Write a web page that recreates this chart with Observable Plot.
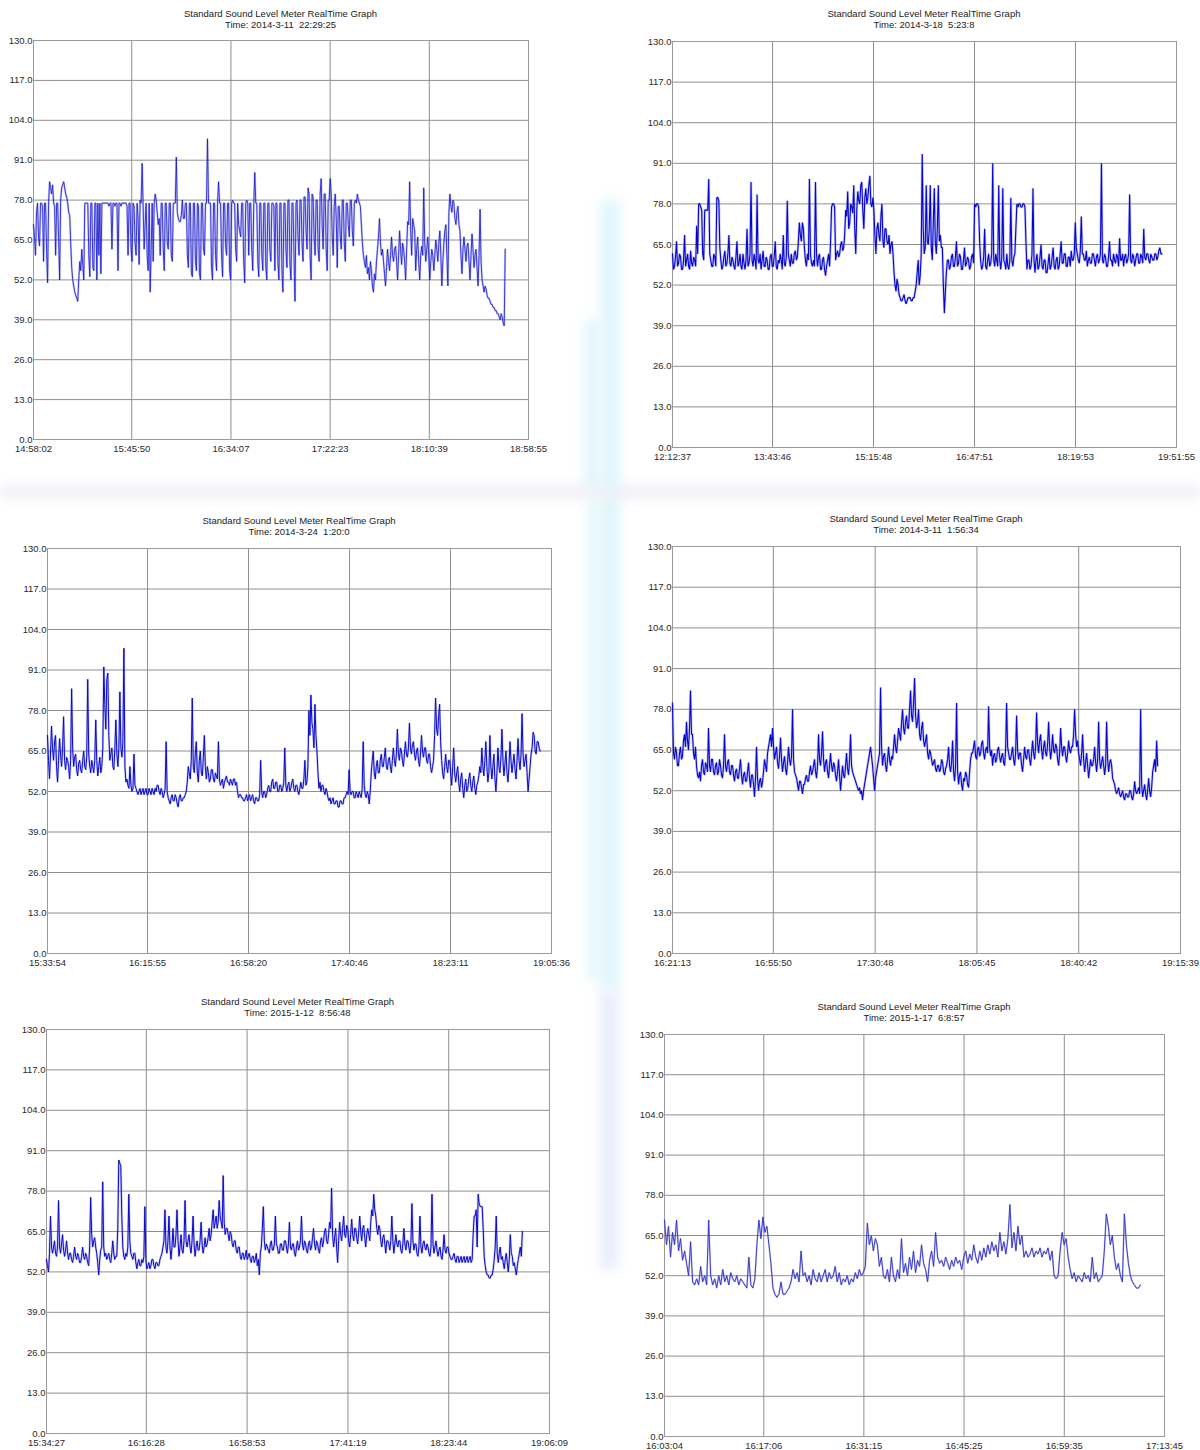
<!DOCTYPE html>
<html>
<head>
<meta charset="utf-8">
<script src="https://cdn.jsdelivr.net/npm/d3@7"></script>
<script src="https://cdn.jsdelivr.net/npm/@observablehq/plot@0.6"></script>
<style>
  html, body { margin: 0; padding: 0; background: #fff; }
  body { width: 1200px; height: 1450px; position: relative; overflow: hidden;
         font-family: "Liberation Sans", Arial, sans-serif; }
  .deco { position: absolute; filter: blur(6px); z-index: 0; }
  .panel-title { position: absolute; width: 600px; text-align: center; font-size: 9.5px;
                 line-height: 11px; color: #222; white-space: pre; z-index: 2; }
  .panel-plot { position: absolute; z-index: 1; }
</style>
</head>
<body>
<div class="deco" style="left:584px;top:320px;width:16px;height:170px;background:#e2f6fb;"></div>
<div class="deco" style="left:600px;top:200px;width:20px;height:790px;background:#e2f6fb;"></div>
<div class="deco" style="left:588px;top:500px;width:12px;height:480px;background:#e2f6fb;"></div>
<div class="deco" style="left:600px;top:990px;width:18px;height:280px;background:#eaeefb;"></div>
<div class="deco" style="left:0px;top:486px;width:1200px;height:12px;background:#eeeff6;"></div>
<script>
// ---------- shared ----------
const TITLE = "Standard Sound Level Meter RealTime Graph";
const Y_TICKS = [0, 13, 26, 39, 52, 65, 78, 91, 104, 117, 130];

// ---------- panel 1 ----------
const P1_TIME = "Time: 2014-3-11  22:29:25";
const P1_TICKS = ["14:58:02", "15:45:50", "16:34:07", "17:22:23", "18:10:39", "18:58:55"];
const P1_END = "18:47:35";
const P1_VALUES = [
  70, 66, 60, 74, 77, 66, 63, 77, 77, 76, 58, 77, 77, 62, 51, 77, 84, 82, 80, 83,
  77, 76, 60, 77, 77, 65, 52, 78, 82, 83, 84, 82, 80, 79, 77, 74, 73, 64, 56, 52,
  50, 48, 47, 46, 45, 52, 58, 55, 62, 57, 52, 77, 77, 77, 77, 60, 53, 77, 77, 56,
  55, 77, 77, 52, 77, 60, 77, 54, 77, 77, 77, 77, 77, 77, 77, 76, 77, 77, 62, 77,
  77, 76, 77, 77, 55, 77, 77, 76, 77, 77, 77, 77, 77, 76, 60, 77, 77, 62, 58, 77,
  76, 64, 60, 77, 72, 57, 78, 77, 90, 76, 62, 70, 77, 60, 55, 77, 48, 62, 77, 58,
  77, 80, 78, 74, 70, 72, 60, 77, 77, 62, 55, 77, 77, 64, 62, 77, 77, 60, 58, 77,
  77, 77, 92, 74, 72, 71, 71, 73, 78, 72, 72, 77, 77, 60, 56, 77, 77, 54, 53, 77,
  77, 58, 55, 77, 76, 54, 52, 77, 77, 62, 60, 77, 77, 98, 77, 77, 77, 56, 52, 77,
  77, 60, 55, 77, 84, 77, 77, 60, 53, 77, 77, 63, 60, 77, 77, 55, 52, 77, 78, 77,
  77, 62, 58, 77, 70, 68, 66, 77, 77, 58, 51, 77, 78, 77, 60, 77, 77, 62, 55, 77,
  87, 77, 77, 58, 53, 77, 77, 60, 55, 77, 77, 56, 52, 77, 77, 62, 58, 77, 77, 76,
  55, 77, 77, 58, 52, 77, 77, 55, 48, 77, 77, 62, 56, 78, 78, 57, 52, 77, 77, 60,
  45, 77, 78, 66, 60, 78, 78, 64, 58, 79, 79, 68, 62, 82, 80, 60, 52, 80, 79, 66,
  60, 78, 78, 62, 58, 80, 85, 70, 62, 80, 80, 62, 55, 78, 78, 85, 80, 66, 60, 76,
  80, 72, 56, 76, 76, 66, 62, 78, 78, 64, 58, 77, 77, 70, 66, 78, 78, 68, 63, 77,
  78, 77, 80, 78, 77, 76, 70, 64, 60, 58, 56, 60, 54, 56, 52, 58, 55, 50, 48, 54,
  52, 58, 62, 66, 72, 64, 60, 62, 58, 54, 50, 56, 62, 58, 55, 60, 66, 60, 58, 62,
  63, 58, 52, 60, 68, 62, 57, 64, 62, 58, 52, 62, 71, 70, 84, 68, 60, 72, 70, 68,
  55, 62, 66, 58, 52, 60, 63, 60, 82, 64, 58, 62, 66, 60, 52, 58, 62, 60, 55, 60,
  65, 62, 58, 64, 68, 60, 50, 58, 64, 68, 70, 60, 50, 74, 80, 76, 74, 78, 77, 72,
  70, 74, 76, 70, 68, 60, 54, 62, 66, 62, 58, 63, 64, 58, 52, 60, 67, 62, 56, 60,
  62, 56, 50, 60, 75, 58, 52, 50, 48, 50, 49, 47, 46, 46, 45, 44, 44, 43, 43, 42,
  42, 41, 41, 40, 39, 41, 40, 38, 37, 62
];

// ---------- panel 2 ----------
const P2_TIME = "Time: 2014-3-18  5:23:8";
const P2_TICKS = ["12:12:37", "13:43:46", "15:15:48", "16:47:51", "18:19:53", "19:51:55"];
const P2_END = "19:38:35";
const P2_VALUES = [
  62, 57, 58, 61, 66, 58, 59, 62, 61, 57, 57, 60, 68, 58, 60, 62, 58, 57, 63, 59,
  58, 61, 60, 58, 71, 62, 78, 78, 77, 76, 62, 60, 76, 76, 76, 76, 86, 62, 60, 58,
  58, 62, 61, 58, 80, 80, 79, 64, 60, 57, 58, 61, 63, 58, 59, 62, 68, 59, 58, 61,
  60, 58, 57, 61, 66, 58, 59, 62, 58, 57, 62, 59, 57, 60, 70, 58, 59, 62, 85, 60,
  58, 62, 60, 57, 81, 60, 59, 62, 57, 60, 63, 58, 58, 61, 60, 57, 57, 61, 62, 58,
  58, 61, 66, 58, 57, 60, 59, 62, 60, 57, 68, 59, 58, 61, 79, 62, 60, 58, 62, 59,
  59, 62, 63, 60, 61, 66, 72, 68, 66, 72, 70, 64, 60, 58, 62, 60, 86, 62, 59, 58,
  60, 58, 85, 62, 58, 61, 62, 57, 57, 60, 61, 57, 55, 58, 60, 62, 58, 66, 77, 78,
  78, 77, 60, 62, 63, 61, 62, 65, 66, 63, 64, 68, 76, 74, 82, 70, 72, 78, 77, 75,
  84, 70, 62, 76, 82, 79, 78, 84, 85, 76, 70, 80, 83, 78, 80, 84, 87, 78, 77, 80,
  76, 68, 62, 70, 72, 68, 66, 74, 78, 66, 64, 70, 70, 66, 65, 68, 62, 65, 66, 62,
  56, 52, 50, 54, 52, 49, 48, 47, 47, 48, 49, 47, 46, 47, 48, 48, 48, 47, 47, 48,
  48, 50, 52, 56, 60, 52, 55, 62, 94, 70, 62, 64, 84, 66, 65, 70, 84, 64, 60, 72,
  83, 66, 62, 70, 84, 66, 68, 64, 64, 52, 43, 50, 56, 60, 60, 57, 58, 61, 62, 58,
  58, 61, 66, 58, 59, 62, 61, 57, 57, 60, 64, 58, 59, 61, 60, 57, 58, 61, 62, 59,
  78, 77, 78, 78, 77, 66, 60, 57, 58, 61, 70, 58, 57, 60, 62, 58, 59, 62, 91, 60,
  58, 62, 60, 58, 84, 60, 57, 61, 83, 60, 59, 57, 62, 58, 57, 60, 80, 60, 58, 61,
  62, 70, 78, 77, 78, 78, 77, 77, 78, 78, 77, 66, 57, 60, 60, 57, 58, 62, 83, 60,
  56, 60, 62, 57, 58, 61, 65, 58, 57, 60, 60, 56, 56, 59, 62, 57, 58, 61, 64, 58,
  57, 60, 61, 57, 58, 62, 66, 59, 59, 62, 62, 58, 58, 61, 61, 58, 63, 60, 60, 62,
  72, 64, 62, 60, 59, 63, 74, 62, 62, 60, 60, 63, 58, 60, 61, 59, 59, 62, 62, 60,
  58, 61, 62, 59, 60, 62, 91, 60, 59, 62, 61, 58, 58, 61, 66, 60, 60, 58, 62, 60,
  59, 62, 61, 58, 67, 60, 60, 62, 58, 61, 62, 59, 60, 62, 81, 60, 59, 62, 61, 58,
  60, 62, 62, 59, 59, 62, 61, 59, 70, 61, 60, 62, 62, 60, 59, 62, 61, 60, 60, 62,
  62, 60, 61, 63, 64, 62, 62
];

// ---------- panel 3 ----------
const P3_TIME = "Time: 2014-3-24  1:20:0";
const P3_TICKS = ["15:33:54", "16:15:55", "16:58:20", "17:40:46", "18:23:11", "19:05:36"];
const P3_END = "19:00:50";
const P3_VALUES = [
  70, 62, 56, 64, 73, 66, 62, 68, 70, 60, 55, 62, 69, 64, 60, 66, 76, 62, 59, 63,
  62, 60, 56, 62, 85, 66, 60, 63, 64, 59, 57, 61, 62, 59, 58, 62, 65, 60, 59, 63,
  88, 64, 60, 58, 62, 60, 58, 62, 75, 62, 57, 60, 63, 58, 60, 66, 92, 80, 72, 88,
  90, 70, 62, 64, 66, 60, 59, 66, 75, 64, 60, 66, 84, 66, 63, 68, 98, 60, 55, 56,
  54, 53, 60, 54, 52, 53, 64, 54, 53, 52, 51, 52, 53, 51, 52, 53, 51, 52, 53, 51,
  51, 53, 52, 51, 53, 52, 51, 53, 52, 54, 54, 52, 51, 53, 52, 50, 51, 53, 68, 52,
  50, 49, 48, 50, 51, 49, 49, 51, 50, 48, 47, 50, 51, 49, 49, 50, 50, 51, 52, 55,
  60, 58, 56, 62, 82, 60, 58, 64, 68, 58, 55, 62, 65, 58, 57, 63, 70, 60, 56, 60,
  58, 55, 56, 59, 59, 56, 55, 58, 57, 56, 68, 56, 54, 55, 56, 53, 55, 56, 57, 55,
  55, 54, 56, 55, 54, 56, 56, 54, 55, 52, 50, 51, 51, 50, 50, 49, 49, 50, 51, 49,
  50, 51, 49, 50, 51, 49, 48, 50, 50, 49, 49, 51, 62, 52, 50, 52, 52, 50, 51, 53,
  54, 52, 52, 55, 56, 53, 53, 55, 55, 52, 52, 54, 54, 52, 53, 55, 66, 54, 52, 54,
  55, 52, 53, 55, 56, 53, 52, 54, 54, 52, 51, 53, 55, 53, 53, 56, 62, 54, 55, 60,
  78, 70, 83, 74, 72, 66, 80, 70, 65, 58, 53, 55, 52, 54, 54, 52, 51, 53, 52, 50,
  49, 50, 48, 49, 50, 48, 48, 49, 49, 47, 47, 49, 49, 48, 48, 50, 50, 51, 52, 51,
  59, 52, 51, 52, 52, 50, 50, 52, 51, 50, 52, 51, 50, 53, 68, 54, 51, 50, 52, 51,
  48, 52, 58, 62, 65, 58, 56, 60, 62, 58, 58, 62, 64, 60, 60, 63, 66, 60, 59, 62,
  63, 60, 58, 62, 66, 62, 60, 64, 72, 64, 62, 66, 65, 62, 60, 64, 68, 64, 63, 66,
  74, 66, 64, 67, 68, 64, 62, 65, 66, 62, 60, 64, 70, 65, 63, 66, 66, 62, 61, 64,
  64, 60, 58, 60, 62, 70, 82, 72, 70, 76, 80, 68, 62, 58, 56, 60, 64, 60, 58, 62,
  62, 58, 54, 60, 66, 58, 55, 58, 60, 55, 52, 56, 58, 53, 50, 54, 56, 52, 53, 56,
  58, 54, 52, 55, 57, 53, 51, 54, 55, 57, 60, 58, 66, 60, 57, 62, 68, 60, 55, 58,
  70, 60, 56, 60, 64, 56, 52, 58, 66, 60, 58, 63, 72, 62, 57, 61, 65, 58, 55, 60,
  68, 62, 58, 61, 64, 59, 56, 62, 69, 62, 59, 64, 77, 64, 60, 62, 64, 58, 52, 56,
  60, 64, 66, 71, 70, 65, 64, 68, 68, 66, 65
];

// ---------- panel 4 ----------
const P4_TIME = "Time: 2014-3-11  1:56:34";
const P4_TICKS = ["16:21:13", "16:55:50", "17:30:48", "18:05:45", "18:40:42", "19:15:39"];
const P4_END = "19:07:48";
const P4_VALUES = [
  80, 64, 62, 66, 64, 60, 60, 64, 66, 62, 63, 68, 70, 66, 74, 68, 65, 72, 84, 70,
  70, 64, 62, 66, 60, 57, 56, 58, 55, 60, 62, 58, 57, 61, 60, 58, 72, 60, 58, 62,
  62, 58, 57, 60, 61, 57, 58, 62, 60, 57, 56, 60, 70, 60, 58, 61, 62, 58, 57, 60,
  60, 57, 55, 58, 59, 56, 56, 59, 62, 57, 54, 57, 58, 55, 55, 58, 61, 56, 53, 57,
  57, 54, 50, 56, 66, 56, 52, 55, 56, 53, 55, 58, 62, 60, 58, 64, 66, 68, 70, 66,
  72, 66, 62, 64, 66, 61, 59, 63, 69, 62, 58, 61, 63, 59, 57, 61, 66, 62, 60, 63,
  78, 62, 58, 57, 56, 54, 52, 55, 55, 53, 51, 54, 54, 56, 57, 55, 55, 58, 60, 57,
  58, 60, 62, 58, 56, 60, 70, 62, 60, 64, 71, 62, 58, 61, 62, 58, 56, 60, 64, 60,
  58, 61, 60, 57, 55, 58, 62, 57, 52, 56, 60, 57, 56, 60, 64, 59, 57, 62, 70, 60,
  58, 57, 56, 55, 54, 53, 52, 53, 51, 52, 49, 52, 54, 56, 58, 60, 62, 64, 66, 63,
  60, 56, 52, 56, 58, 60, 62, 64, 85, 66, 60, 63, 64, 60, 58, 62, 66, 62, 60, 63,
  62, 66, 70, 66, 64, 68, 72, 70, 68, 74, 78, 72, 70, 74, 76, 72, 72, 78, 84, 76,
  74, 80, 88, 76, 72, 74, 78, 70, 68, 72, 74, 68, 66, 68, 70, 64, 62, 65, 64, 62,
  60, 61, 62, 59, 58, 60, 60, 58, 59, 62, 61, 58, 57, 59, 60, 62, 66, 60, 58, 61,
  68, 58, 55, 60, 80, 58, 54, 57, 58, 54, 52, 56, 55, 58, 57, 54, 53, 58, 62, 64,
  64, 66, 68, 63, 62, 65, 66, 63, 64, 67, 68, 64, 62, 65, 66, 64, 79, 66, 63, 65,
  60, 63, 64, 61, 62, 65, 66, 63, 61, 63, 64, 61, 60, 65, 80, 66, 64, 62, 62, 64,
  66, 62, 60, 64, 76, 65, 62, 64, 64, 60, 58, 62, 66, 63, 62, 65, 65, 62, 60, 64,
  68, 64, 62, 66, 77, 67, 64, 68, 70, 65, 62, 66, 68, 64, 63, 67, 74, 66, 62, 65,
  70, 65, 64, 67, 66, 62, 60, 64, 72, 66, 63, 66, 66, 63, 61, 64, 68, 65, 64, 66,
  66, 70, 78, 70, 66, 68, 64, 62, 60, 64, 70, 62, 58, 61, 64, 60, 56, 59, 62, 60,
  60, 62, 66, 61, 58, 62, 74, 62, 59, 61, 63, 60, 57, 60, 74, 62, 58, 61, 62, 60,
  56, 55, 54, 52, 51, 52, 53, 51, 50, 51, 52, 50, 49, 51, 51, 50, 50, 52, 52, 50,
  49, 51, 55, 52, 51, 52, 53, 51, 78, 54, 50, 52, 54, 51, 49, 52, 56, 52, 50, 53,
  58, 60, 62, 58, 68, 60
];

// ---------- panel 5 ----------
const P5_TIME = "Time: 2015-1-12  8:56:48";
const P5_TICKS = ["15:34:27", "16:16:28", "16:58:53", "17:41:19", "18:23:44", "19:06:09"];
const P5_END = "18:54:43";
const P5_VALUES = [
  56, 54, 52, 58, 70, 60, 58, 60, 62, 58, 57, 60, 75, 60, 58, 61, 64, 59, 57, 59,
  62, 58, 56, 58, 58, 56, 55, 57, 60, 57, 56, 58, 57, 55, 55, 57, 60, 57, 56, 58,
  57, 55, 54, 60, 76, 64, 60, 62, 63, 60, 58, 55, 51, 56, 59, 60, 81, 60, 57, 58,
  56, 57, 58, 56, 55, 58, 62, 58, 56, 57, 57, 66, 88, 87, 86, 70, 60, 57, 56, 58,
  57, 60, 77, 62, 58, 57, 56, 58, 58, 55, 53, 55, 56, 54, 54, 56, 55, 57, 73, 56,
  53, 54, 55, 53, 54, 56, 56, 54, 53, 55, 55, 54, 54, 56, 57, 58, 60, 62, 72, 60,
  58, 62, 70, 60, 56, 60, 66, 60, 60, 64, 72, 62, 57, 60, 64, 59, 58, 62, 75, 62,
  60, 62, 64, 60, 58, 62, 70, 61, 57, 60, 62, 59, 59, 62, 68, 61, 58, 60, 63, 60,
  61, 63, 66, 62, 64, 68, 72, 66, 68, 70, 66, 68, 75, 70, 68, 66, 83, 68, 64, 66,
  66, 64, 62, 65, 64, 61, 60, 62, 62, 59, 58, 60, 60, 57, 56, 58, 58, 56, 57, 59,
  56, 57, 58, 56, 55, 57, 57, 55, 56, 58, 54, 56, 51, 58, 60, 66, 73, 62, 59, 61,
  60, 59, 58, 61, 62, 59, 59, 61, 70, 61, 60, 58, 58, 61, 61, 59, 59, 62, 62, 60,
  58, 61, 68, 60, 59, 61, 61, 58, 57, 60, 62, 59, 60, 62, 70, 61, 59, 62, 61, 59,
  58, 61, 62, 59, 60, 63, 66, 61, 59, 62, 61, 59, 58, 62, 63, 60, 62, 65, 66, 62,
  61, 64, 68, 66, 79, 64, 60, 63, 66, 60, 55, 62, 68, 64, 62, 66, 70, 64, 63, 67,
  66, 62, 60, 64, 69, 64, 62, 66, 66, 63, 61, 65, 70, 65, 62, 66, 67, 63, 60, 64,
  66, 64, 62, 68, 72, 70, 77, 72, 70, 66, 64, 67, 66, 62, 60, 63, 64, 61, 58, 62,
  62, 61, 59, 62, 70, 62, 58, 61, 64, 61, 60, 62, 62, 59, 58, 61, 66, 61, 59, 62,
  62, 60, 58, 61, 74, 62, 59, 61, 61, 58, 57, 60, 70, 60, 58, 61, 62, 60, 59, 61,
  60, 58, 57, 60, 77, 61, 58, 60, 62, 59, 57, 59, 60, 57, 56, 59, 64, 59, 58, 60,
  60, 58, 57, 56, 56, 57, 58, 56, 55, 57, 57, 55, 56, 57, 55, 56, 57, 55, 56, 57,
  55, 56, 57, 55, 56, 64, 70, 70, 72, 60, 77, 74, 73, 73, 73, 66, 57, 54, 52, 51,
  51, 50, 50, 51, 51, 53, 56, 60, 70, 58, 55, 58, 60, 56, 57, 55, 53, 56, 58, 55,
  52, 56, 64, 58, 57, 54, 55, 53, 51, 54, 56, 58, 60, 57, 65
];

// ---------- panel 6 ----------
const P6_TIME = "Time: 2015-1-17  6:8:57";
const P6_TICKS = ["16:03:04", "16:17:06", "16:31:15", "16:45:25", "16:59:35", "17:13:45"];
const P6_END = "17:10:21";
const P6_VALUES = [
  70, 62, 68, 58, 66, 62, 70, 60, 64, 57,
  60, 56, 52, 63, 50, 49, 51, 49, 55, 50,
  52, 49, 70, 52, 49, 51, 48, 52, 49, 54,
  50, 52, 49, 53, 51, 50, 52, 49, 51, 50,
  49, 48, 58, 49, 48, 51, 62, 70, 64, 71,
  66, 68, 62, 56, 48, 46, 45, 46, 50, 46,
  46, 47, 48, 50, 54, 51, 53, 50, 60, 52,
  53, 50, 52, 49, 54, 51, 50, 53, 50, 52,
  54, 50, 53, 51, 52, 55, 50, 53, 49, 51,
  50, 52, 49, 51, 50, 53, 51, 54, 52, 53,
  55, 69, 62, 65, 60, 64, 62, 55, 58, 52,
  51, 54, 50, 58, 52, 50, 54, 51, 64, 53,
  56, 52, 58, 54, 60, 53, 57, 55, 62, 56,
  54, 50, 57, 60, 55, 66, 58, 56, 57, 55,
  58, 56, 54, 57, 55, 58, 56, 57, 54, 58,
  60, 56, 59, 57, 62, 58, 56, 60, 57, 61,
  58, 62, 59, 63, 60, 62, 58, 66, 60, 63,
  59, 64, 75, 61, 66, 60, 68, 62, 65, 58,
  60, 58, 59, 61, 58, 60, 59, 61, 58, 60,
  59, 61, 57, 60, 52, 51, 52, 60, 66, 62,
  64, 58, 54, 51, 53, 50, 52, 51, 50, 53,
  51, 52, 50, 58, 51, 53, 50, 51, 52, 60,
  72, 68, 62, 65, 58, 54, 56, 52, 50, 72,
  62, 56, 52, 50, 49, 48, 48, 49
];

// ---------- layout (positions of each plot area on the page) ----------
const PANELS = [
  {time: P1_TIME, ticks: P1_TICKS, end: P1_END, values: P1_VALUES, left: 33,  right: 528,  top: 40,   bottom: 439,  titleTop: 8,    stroke: "#1414cc", sw: 0.8,  halo: 2.2},
  {time: P2_TIME, ticks: P2_TICKS, end: P2_END, values: P2_VALUES, left: 672, right: 1176, top: 41,   bottom: 447,  titleTop: 8,    stroke: "#0505cf", sw: 1.1,  halo: 2.6},
  {time: P3_TIME, ticks: P3_TICKS, end: P3_END, values: P3_VALUES, left: 47,  right: 551,  top: 548,  bottom: 953,  titleTop: 515,  stroke: "#0a0ac8", sw: 1.0,  halo: 2.3},
  {time: P4_TIME, ticks: P4_TICKS, end: P4_END, values: P4_VALUES, left: 672, right: 1180, top: 546,  bottom: 953,  titleTop: 513,  stroke: "#0808cc", sw: 1.1,  halo: 2.6},
  {time: P5_TIME, ticks: P5_TICKS, end: P5_END, values: P5_VALUES, left: 46,  right: 549,  top: 1029, bottom: 1433, titleTop: 996,  stroke: "#0a0ac8", sw: 1.0,  halo: 2.4},
  {time: P6_TIME, ticks: P6_TICKS, end: P6_END, values: P6_VALUES, left: 664, right: 1164, top: 1034, bottom: 1436, titleTop: 1001, stroke: "#3030c0", sw: 0.9,  halo: 1.8}
];

const ML = 30, MR = 30, MT = 6, MB = 20;
const sec = s => { const [h, m, x] = s.split(":").map(Number); return h * 3600 + m * 60 + x; };

for (const p of PANELS) {
  const t0 = sec(p.ticks[0]);
  const tickPos = p.ticks.map(t => sec(t) - t0);
  const tEnd = sec(p.end) - t0;
  const n = p.values.length;
  const data = p.values.map((v, i) => ({t: tEnd * i / (n - 1), v}));
  const labelOf = d => p.ticks[tickPos.indexOf(d)];

  const w = p.right - p.left, h = p.bottom - p.top;
  const chart = Plot.plot({
    width: w + ML + MR,
    height: h + MT + MB,
    marginLeft: ML, marginRight: MR, marginTop: MT, marginBottom: MB,
    style: {fontFamily: "'Liberation Sans', Arial, sans-serif", fontSize: "9.5px", color: "#2a2a2a", background: "transparent", overflow: "visible"},
    x: {domain: [0, tickPos[tickPos.length - 1]]},
    y: {domain: [0, 130]},
    marks: [
      () => {
        const r = document.createElementNS("http://www.w3.org/2000/svg", "rect");
        r.setAttribute("x", ML); r.setAttribute("y", MT);
        r.setAttribute("width", w); r.setAttribute("height", h);
        r.setAttribute("fill", "white");
        return r;
      },
      Plot.gridY(Y_TICKS, {stroke: "#8f8f8f", strokeOpacity: 1, strokeWidth: 1}),
      Plot.gridX(tickPos, {stroke: "#8f8f8f", strokeOpacity: 1, strokeWidth: 1}),
      Plot.frame({stroke: "#9a9a9a"}),
      Plot.lineY(data, {x: "t", y: "v", stroke: "#6a6ae0", strokeWidth: p.halo, strokeOpacity: 0.35, strokeLinejoin: "miter"}),
      Plot.lineY(data, {x: "t", y: "v", stroke: p.stroke, strokeWidth: p.sw, strokeOpacity: 1, strokeLinejoin: "miter"}),
      Plot.axisY(Y_TICKS, {tickSize: 0, tickPadding: 1, tickFormat: d => d.toFixed(1), label: null}),
      Plot.axisX(tickPos, {tickSize: 0, tickPadding: 6, tickFormat: labelOf, label: null})
    ]
  });
  chart.classList.add("panel-plot");
  chart.style.left = (p.left - ML) + "px";
  chart.style.top = (p.top - MT) + "px";
  chart.style.position = "absolute";
  chart.style.maxWidth = "none";
  document.body.appendChild(chart);

  const cx = (p.left + p.right) / 2;
  const t1 = document.createElement("div");
  t1.className = "panel-title";
  t1.style.left = (cx - 300) + "px";
  t1.style.top = p.titleTop + "px";
  t1.textContent = TITLE + "\n" + p.time;
  document.body.appendChild(t1);
}
</script>
</body>
</html>
